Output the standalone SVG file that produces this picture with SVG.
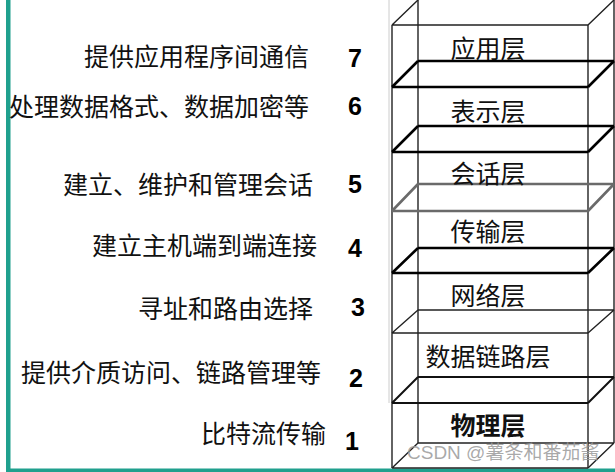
<svg xmlns="http://www.w3.org/2000/svg" width="615" height="472" viewBox="0 0 615 472">
<style>
.lbl{font-family:"Noto Sans CJK SC","Liberation Sans",sans-serif;font-size:25px;fill:#111}
.num{font-family:"Liberation Sans",Arial,sans-serif;font-size:25px;font-weight:bold;fill:#000}
.ln{font-family:"Noto Sans CJK SC","Liberation Sans",sans-serif;font-size:25px;fill:#111;text-anchor:middle}
.thin{stroke:#222;stroke-width:1.4;fill:none}
.mid{stroke:#111;stroke-width:2;fill:none}
.thick{stroke:#000;stroke-width:2.6;fill:none}
.gray{stroke:#6a6a6a;stroke-width:2.6;fill:none}
.wm{font-family:"Liberation Sans","Noto Sans CJK SC",sans-serif;font-size:19px;fill:#9a9a9a;fill-opacity:0.85}
</style>
<rect width="615" height="472" fill="#fff"/>
<g id="frame">
<rect x="6" y="0" width="4.5" height="472" fill="#20a08e"/>
<rect x="6" y="468.5" width="609" height="3.5" fill="#20a08e"/>
<line x1="389" y1="0" x2="389" y2="403" stroke="#ccc" stroke-width="1"/>
</g>
<g id="stack">
<line class="thin" x1="392" y1="25" x2="392" y2="468"/>
<line class="thin" x1="588" y1="25" x2="588" y2="468"/>
<line class="thin" x1="418" y1="0" x2="418" y2="443"/>
<line class="thin" x1="614" y1="0" x2="614" y2="443"/>
<path class="thin" d="M392,25H588M392,25L418,0M588,25L614,0"/>
<path class="thick" d="M418,61H614M392,87H588M392,87L418,61M588,87L614,61"/>
<path class="thick" d="M418,126H614M392,152H588M392,152L418,126M588,152L614,126"/>
<path class="gray" d="M418,184H614M392,211H588M392,211L418,184M588,211L614,184"/>
<path class="thick" d="M418,248H614M392,273H588M392,273L418,248M588,273L614,248"/>
<path class="thin" d="M418,310H614M392,333H588M392,333L418,310M588,333L614,310"/>
<path class="mid" d="M418,377H614M392,403H588M392,403L418,377M588,403L614,377"/>
<path class="thin" d="M418,443H614M392,468H588M392,468L418,443M588,468L614,443"/>
</g>
<g id="connectors"></g>
<g id="layer7">
<text class="lbl" x="84" y="66">提供应用程序间通信</text>
<text class="num" x="348" y="67">7</text>
<text class="ln" x="488" y="58">应用层</text>
</g>
<g id="layer6">
<text class="lbl" x="9" y="116">处理数据格式、数据加密等</text>
<text class="num" x="348" y="115">6</text>
<text class="ln" x="488" y="121">表示层</text>
</g>
<g id="layer5">
<text class="lbl" x="63" y="194">建立、维护和管理会话</text>
<text class="num" x="348" y="193">5</text>
<text class="ln" x="488" y="183">会话层</text>
</g>
<g id="layer4">
<text class="lbl" x="92" y="255">建立主机端到端连接</text>
<text class="num" x="348" y="257">4</text>
<text class="ln" x="488" y="241">传输层</text>
</g>
<g id="layer3">
<text class="lbl" x="138" y="318">寻址和路由选择</text>
<text class="num" x="351" y="316">3</text>
<text class="ln" x="488" y="305">网络层</text>
</g>
<g id="layer2">
<text class="lbl" x="21" y="382">提供介质访问、链路管理等</text>
<text class="num" x="349" y="387">2</text>
<text class="ln" x="488" y="366">数据链路层</text>
</g>
<g id="layer1">
<text class="lbl" x="201" y="443">比特流传输</text>
<text class="num" x="345" y="450">1</text>
<text class="ln" x="488" y="435" font-weight="bold">物理层</text>
</g>
<text class="wm" x="407" y="459">CSDN @薯条和番茄酱</text>
</svg>
